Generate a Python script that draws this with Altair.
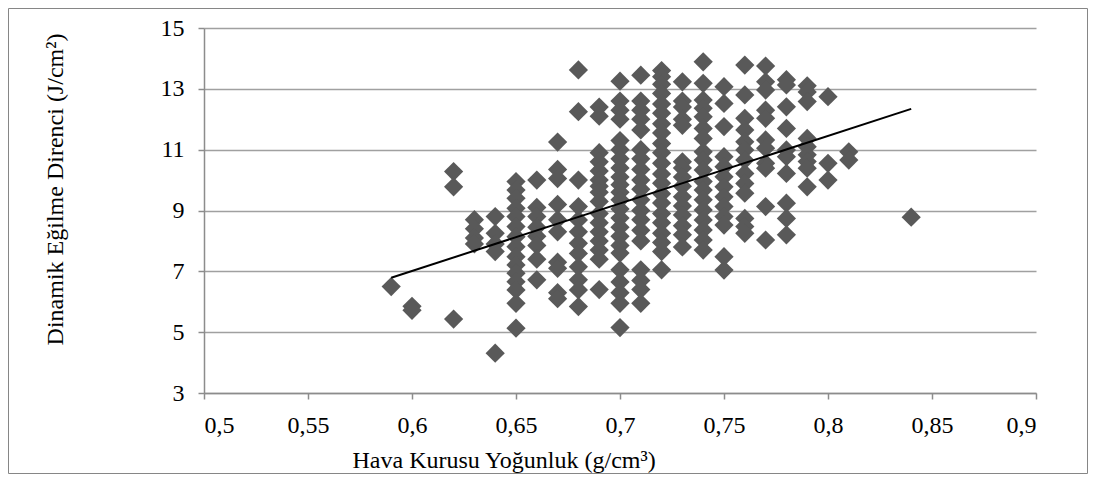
import altair as alt
import pandas as pd

# Air-dry density levels (g/cm3) and the measured impact bending strength values (J/cm2)
y_059 = [6.50]
y_060 = [5.85, 5.72]
y_062 = [10.28, 9.78, 5.43]
y_063 = [8.70, 8.40, 8.10, 7.90]
y_064 = [8.80, 8.25, 7.90, 7.65, 4.31]
y_065 = [9.95, 9.67, 9.40, 9.07, 8.80, 8.47, 8.14, 7.81, 7.48, 7.21, 6.94, 6.66, 6.39, 5.95, 5.13]
y_066 = [10.00, 9.10, 8.80, 8.45, 8.15, 7.85, 7.40, 6.72]
y_067 = [11.25, 10.35, 10.05, 9.20, 8.70, 8.30, 7.30, 7.10, 6.30, 6.10]
y_068 = [13.62, 12.25, 10.00, 9.13, 8.69, 8.30, 7.92, 7.59, 7.15, 6.72, 6.39, 5.84]
y_069 = [12.40, 12.10, 10.90, 10.60, 10.30, 10.00, 9.80, 9.60, 9.30, 8.90, 8.60, 8.30, 8.00, 7.70, 7.40, 6.40]
y_070 = [13.25, 12.60, 12.30, 12.00, 11.30, 11.00, 10.70, 10.40, 10.10, 9.85, 9.60, 9.35, 9.05,
         8.75, 8.45, 8.15, 7.85, 7.60, 7.05, 6.65, 6.30, 5.95, 5.15]
y_071 = [13.45, 12.60, 12.30, 12.00, 11.65, 11.00, 10.70, 10.35, 10.00, 9.70, 9.35, 9.00, 8.70,
         8.35, 8.00, 7.05, 6.70, 6.40, 5.95]
y_072 = [13.60, 13.40, 13.15, 12.85, 12.50, 12.20, 11.85, 11.55, 11.20, 10.90, 10.55, 10.20, 9.90,
         9.55, 9.25, 8.90, 8.60, 8.25, 7.95, 7.65, 7.05]
y_073 = [13.23, 12.60, 12.40, 12.00, 11.80, 10.60, 10.40, 10.10, 9.80, 9.45, 9.15, 8.85, 8.50, 8.20, 7.80]
y_074 = [13.89, 13.18, 12.63, 12.36, 12.08, 11.70, 11.37, 10.93, 10.66, 10.33, 9.95, 9.67, 9.35,
         9.02, 8.69, 8.36, 8.03, 7.70]
y_075 = [13.07, 12.52, 11.76, 10.77, 10.44, 10.11, 9.78, 9.45, 9.13, 8.80, 8.52, 7.48, 7.04]
y_076 = [13.78, 12.80, 12.03, 11.65, 11.26, 10.99, 10.66, 10.22, 9.89, 9.57, 8.74, 8.47, 8.25]
y_077 = [13.75, 13.23, 12.96, 12.30, 12.03, 11.32, 11.05, 10.55, 10.39, 9.13, 8.03]
y_078 = [13.30, 13.13, 12.41, 11.70, 10.99, 10.77, 10.22, 9.24, 8.74, 8.20]
y_079 = [13.10, 12.90, 12.58, 11.37, 11.10, 10.83, 10.61, 10.39, 9.78]
y_080 = [12.74, 10.55, 10.00]
y_081 = [10.93, 10.66]
y_084 = [8.78]

density_levels = [0.59, 0.60, 0.62, 0.63, 0.64, 0.65, 0.66, 0.67, 0.68, 0.69, 0.70, 0.71, 0.72,
                  0.73, 0.74, 0.75, 0.76, 0.77, 0.78, 0.79, 0.80, 0.81, 0.84]
strength_columns = [y_059, y_060, y_062, y_063, y_064, y_065, y_066, y_067, y_068, y_069, y_070,
                    y_071, y_072, y_073, y_074, y_075, y_076, y_077, y_078, y_079, y_080, y_081, y_084]

# Linear trend line end points
trend_x = [0.59, 0.84]
trend_y = [6.79, 12.34]

x_ticks = [0.5, 0.55, 0.6, 0.65, 0.7, 0.75, 0.8, 0.85, 0.9]
y_ticks = [3, 5, 7, 9, 11, 13, 15]

rows = []
for xv, col in zip(density_levels, strength_columns):
    for yv in col:
        rows.append({"x": xv, "y": yv})
points_df = pd.DataFrame(rows)
trend_df = pd.DataFrame({"x": trend_x, "y": trend_y})

FONT = "Liberation Serif, Times New Roman, serif"
AXIS_GRAY = "#8c8c8c"

x_enc = alt.X(
    "x:Q",
    scale=alt.Scale(domain=[0.5, 0.9], nice=False, zero=False),
    axis=alt.Axis(
        values=x_ticks,
        grid=False,
        title="Hava Kurusu Yoğunluk (g/cm³)",
        labelExpr="replace(format(datum.value, '.2~f'), '.', ',')",
        labelPadding=14,
        tickSize=6,
        titleX=148,
        titleY=74,
        titleAlign="left",
        titleBaseline="alphabetic",
    ),
)
y_enc = alt.Y(
    "y:Q",
    scale=alt.Scale(domain=[3, 15], nice=False, zero=False),
    axis=alt.Axis(
        values=y_ticks,
        grid=True,
        title="Dinamik Eğilme Direnci (J/cm²)",
        labelPadding=14,
        tickSize=6,
        titleAngle=270,
        titleX=-142,
        titleY=161,
        titleAlign="center",
        titleBaseline="alphabetic",
    ),
)

border = alt.Chart(alt.Data(values=[{"k": 1}])).mark_rect(
    fillOpacity=0, stroke="#868686", strokeWidth=1, clip=False
).encode(
    x=alt.value(-195.5), x2=alt.value(883.5), y=alt.value(-19.5), y2=alt.value(445.5)
)

pts = alt.Chart(points_df).mark_point(
    shape="diamond", filled=True, size=370, color="#595959", opacity=1
).encode(x=x_enc, y=y_enc)

trend = alt.Chart(trend_df).mark_line(color="#000000", strokeWidth=2).encode(x=x_enc, y=y_enc)

chart = alt.layer(border, pts, trend).properties(
    width=832,
    height=365,
    padding={"left": 196, "top": 20, "right": 52, "bottom": 81},
    autosize=alt.AutoSizeParams(type="none"),
    background="white",
).configure_view(
    strokeWidth=0
).configure_axis(
    labelFont=FONT,
    titleFont=FONT,
    labelFontSize=24,
    titleFontSize=24,
    labelColor="#000000",
    titleColor="#000000",
    titleFontWeight="normal",
    domainColor=AXIS_GRAY,
    tickColor=AXIS_GRAY,
    gridColor="#a0a0a0",
    gridWidth=1.5,
    domainWidth=1.5,
    tickWidth=1.5,
)

chart.save("out.html", embed_options={"renderer": "svg", "actions": False})
